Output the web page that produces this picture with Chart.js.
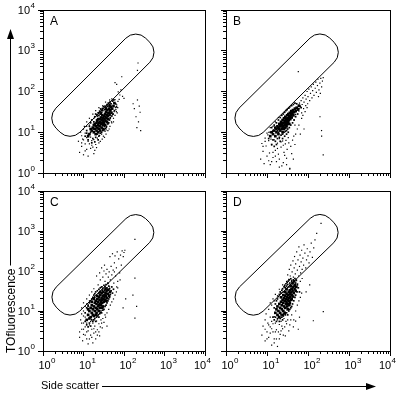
<!DOCTYPE html>
<html>
<head>
<meta charset="utf-8">
<script src="https://cdn.jsdelivr.net/npm/chart.js@4.4.1/dist/chart.umd.min.js"></script>
<style>
  html, body { margin: 0; padding: 0; background: #fff; }
  #wrap { position: relative; width: 404px; height: 396px; }
  canvas { position: absolute; left: 0; top: 0; }
</style>
</head>
<body>
<div id="wrap">
  <canvas id="panelA" width="404" height="396"></canvas>
  <canvas id="panelB" width="404" height="396"></canvas>
  <canvas id="panelC" width="404" height="396"></canvas>
  <canvas id="panelD" width="404" height="396"></canvas>
</div>
<script>
// Achsen (log): Dekaden 10^0 .. 10^4
const decadeValues = [1, 10, 100, 1000, 10000];
const decadeExps = ['0', '1', '2', '3', '4'];
const minorMult = [2, 3, 4, 5, 6, 7, 8, 9];

const xTitle = 'Side scatter';
const yTitle = 'TOfluorescence';

// Gate (Eckpunkte in Datenwerten: side scatter, TO fluorescence)
const gateX = [1.18, 195, 766, 4.65];
const gateY = [22.2, 3556, 916, 5.74];

// Panel A
const coreA = [
  [16,11],[17,13],[18,10],[18,15],[19,12],[20,9],[20,14],[21,17],[21,11],[22,13],
  [22,19],[23,10],[23,15],[24,17],[24,12],[25,21],[25,14],[26,11],[26,18],[27,16],
  [27,23],[28,13],[28,20],[29,17],[29,26],[30,15],[30,22],[31,19],[31,12],[32,25],
  [32,17],[33,21],[34,28],[34,15],[35,19],[35,24],[36,32],[37,22],[38,18],[38,27],
  [39,35],[40,25],[41,21],[42,30],[43,38],[44,27],[46,34],[47,42],[49,30],[51,38],
  [14,9],[15,12],[13,8],[19,16],[23,21],[27,29],[36,38],[45,45],[55,44],[58,52]
];
const midA = [
  [14,14],[15,17],[16,20],[17,7],[18,18],[19,24],[20,28],[20,7.5],[21,20],[22,9],
  [22,25],[23,30],[24,8],[24,26],[25,33],[26,9.5],[26,28],[27,36],[28,10],[28,31],
  [29,38],[30,11],[30,34],[31,42],[32,11.5],[33,36],[34,44],[35,12.5],[36,40],[37,14],
  [38,48],[39,16],[40,44],[41,52],[42,17],[43,47],[44,20],[45,55],[46,23],[48,50],
  [50,25],[52,58],[54,28],[56,62],[58,34],[62,50],[65,42],[12,11],[13,6.5],[11,8],
  [16,5.5],[19,5.8],[23,6.5],[12,9.5],[15,10],[18,12],[25,12],[33,14],[40,30],[47,36]
];
const spreadA = [
  [8,3.2],[9,4.5],[10,2.8],[11,5.2],[12,3.8],[13,6],[10,6.5],[12,7.4],[14,5.2],[16,6.2],
  [15,7.6],[9,8.2],[11,9.5],[13,8.6],[18,6.6],[20,5],[17,4.3],[22,7.2],[8.5,10],[10,12],
  [12,14],[9.5,6.8],[25,8.4],[28,9],[26,6],[31,8],[19,3.6],[15,4],
  [15,18],[14,15],[18,22],[21,27],[24,30],[28,34],[37,13],[41,16],[46,22],[52,27],
  [57,32],[62,40],[66,47],[38,43],[45,51],[52,58],[60,63],[71,57],[76,64],[63,36],
  [43,12],[49,18],[34,10.5],[55,22],[68,30],
  [12,18],[14,22],[17,28],[20,34],[24,40],[36,9],[40,11],[45,14],[50,17],[55,18],
  [60,26],[65,32],[70,40],[16,4.8],[21,4.2],[24,5.5],[29,6.8],[33,7.5],[36,11.5],[9,5.5],
  [11,3.5],[13,2.6],[7.5,6],[10.5,14],[18,3],[44,62],[50,66],[30,45],[35,55],[26,38],
  [60,165],[66,150],[88,230],[72,98],[79,82],[92,76],[100,68],[84,110],
  [168,50],[180,38],[198,24],[208,13],[238,44],[250,31],[258,11],[228,18],[215,62],
  [222,500],[215,330]
];

// Panel B
const coreB = [
  [14,9],[15,11],[16,8],[17,12],[17,10],[18,14],[19,9],[19,13],[20,16],[21,11],
  [21,14],[22,18],[23,12],[23,15],[24,10],[24,20],[25,14],[25,17],[26,12],[26,22],
  [27,15],[27,19],[28,13],[28,24],[29,17],[29,21],[30,14],[30,19],[31,26],[31,16],
  [32,22],[33,18],[33,28],[34,20],[35,16],[35,25],[36,30],[37,21],[38,26],[39,33],
  [40,23],[41,29],[43,35],[44,26],[46,31],[48,38],[50,33],[53,40],[57,36],[60,45],
  [12,8],[13,10],[16,13],[20,12],[22,16],[24,13],[28,18],[32,20],[36,24],[42,31]
];
const midB = [
  [13,13],[14,6.5],[15,15],[16,6],[17,17],[18,7],[19,20],[20,7.5],[21,23],[22,8.5],
  [23,26],[24,9],[25,28],[26,10],[27,31],[28,10.5],[29,34],[30,11],[31,36],[32,12],
  [34,39],[35,13],[36,42],[38,15],[40,45],[42,17],[44,48],[46,20],[48,52],[50,24],
  [53,50],[56,28],[60,38],[64,44],[68,40],[12,10],[11,7],[13,5],[15,4.5],[17,5],
  [19,10],[21,6],[24,7],[27,8],[30,9],[33,10],[22,14],[26,16],[30,22],[35,22],
  [40,28],[18,11],[14,11]
];
const spreadB = [
  [7,2.2],[8,3.4],[8.5,1.7],[9.5,4.6],[10,2.6],[11,6.2],[11.5,3.1],[12,1.6],[13,4.9],[14,2.4],
  [15,6.5],[16,3.6],[17,1.9],[18,5.4],[19,2.9],[20,7],[22,4.3],[23,1.5],[24,6.1],[26,3.2],
  [28,5.2],[30,2.3],[33,7.4],[36,1.3],[38,4.5],[42,6.4],[9,7.2],[10.5,8.6],[12.5,6.8],[7.5,5.3],
  [16,18],[14,14],[19,23],[11,10],
  [14,3.2],[16,2.6],[18,4],[20,2.2],[22,5.8],[25,4.8],[27,2.7],[29,6.3],[31,3.8],[34,5.5],
  [40,3],[45,8],[50,9],[55,12],[60,15],[70,22],[75,26],[85,32],[95,40],[12,13],
  [10,9.5],[9,6],[8,4.5],[11,2],[13,1.9],[20,1.4],[25,1.8],[30,1.6],[44,2.2],[48,5],
  [45,20],[50,27],[55,38],[48,15],[60,33],[62,52],[65,42],[68,60],[70,30],[72,48],
  [75,70],[78,38],[80,55],[85,80],[88,45],[90,65],[95,100],[98,50],[100,75],[105,115],
  [110,60],[115,90],[120,130],[125,70],[130,105],[135,150],[140,80],[150,120],[155,170],[160,95],
  [170,140],[175,200],[185,110],[195,160],[205,210],[215,130],[225,180],[235,220],[200,90],[180,75],
  [58,308],[196,24],[214,11],[215,8],[235,2.8],[36,1.25],[80,12],[65,9]
];

// Panel C
const coreC = [
  [12,6],[13,8],[14,6.5],[14,10],[15,7],[15,12],[16,9],[16,14],[17,8],[17,11],
  [18,13],[18,7.5],[19,16],[19,10],[20,12],[20,18],[21,9],[21,15],[22,11],[22,20],
  [23,13],[23,17],[24,10],[24,22],[25,15],[25,19],[26,12],[26,25],[27,17],[27,14],
  [28,21],[28,28],[29,16],[29,19],[30,24],[30,13],[31,20],[31,30],[32,17],[33,25],
  [33,22],[34,19],[35,28],[36,24],[37,32],[38,21],[40,27],[41,34],[43,24],[45,30],
  [13,11],[16,17],[18,20],[22,24],[26,30],[35,36],[20,8],[24,14],[29,12],[36,18]
];
const midC = [
  [11,9],[12,12],[13,14],[14,16],[15,18],[16,20],[17,22],[18,25],[19,27],[20,30],
  [22,32],[24,35],[26,38],[28,40],[30,36],[32,44],[34,40],[36,46],[38,38],[40,50],
  [42,42],[44,36],[46,26],[48,32],[50,40],[52,28],[55,35],[11,5.5],[12,4.5],[13,4],
  [14,5],[15,4.2],[16,6],[17,5.5],[18,6],[19,6.5],[20,5.5],[21,7],[22,7.5],[23,8],
  [24,7],[25,8.5],[26,9],[27,10],[28,9],[30,10.5],[32,11],[34,13],[36,14],[38,16],
  [40,18],[42,20],[44,22],[13,13],[19,22],[24,28],[29,33],[33,33],[37,27]
];
const spreadC = [
  [8,2.2],[9,3.5],[9.5,1.8],[10,5],[10,2.6],[11,4],[11,7],[12,2],[12,5],[13,3.2],
  [13,1.5],[14,4.5],[15,2.5],[15,5.5],[16,3.5],[17,1.6],[17,5],[18,2.8],[19,4.2],[20,2],
  [21,5.6],[22,3.4],[24,4.8],[25,2.4],[27,6],[29,3.8],[32,5.2],[35,7],[38,4.2],[8.5,6],
  [9,8.5],[10,10],[11,13],[12,15],[14,18],
  [10,7.5],[9,5],[8,3],[10,3.5],[11,2.5],[12,3],[14,2],[16,2.2],[18,3.6],[20,3],
  [22,2.5],[24,3],[26,4],[28,5],[30,6.5],[34,8],[38,9],[42,11],[46,14],[50,17],
  [55,20],[60,25],[65,30],[70,38],[9,12],[10,16],[12,20],[14,25],[16,30],[18,36],
  [21,75],[23,45],[25,90],[26,60],[28,120],[29,40],[30,70],[32,100],[33,140],[34,55],
  [36,85],[38,110],[40,48],[41,70],[43,95],[45,230],[46,60],[48,130],[50,80],[52,270],
  [54,105],[56,50],[58,160],[60,240],[62,75],[65,120],[68,300],[70,55],[74,200],[78,90],
  [82,250],[86,140],[90,320],[96,230],[100,290],[105,330],[66,40],[80,60],[58,95],[44,40],
  [186,620],[186,66],[205,13],[186,6.6],[166,25],[110,20],[95,12]
];

// Panel D
const coreD = [
  [16,9],[17,11],[18,8],[18,13],[19,10],[20,15],[21,9],[21,12],[22,17],[23,11],
  [23,14],[24,19],[25,10],[25,16],[26,21],[26,13],[27,18],[28,12],[28,24],[29,15],
  [29,20],[30,17],[30,27],[31,13],[31,22],[32,19],[33,25],[33,15],[34,30],[34,21],
  [35,18],[36,26],[36,33],[37,22],[38,29],[39,19],[40,36],[40,25],[42,31],[43,23],
  [44,40],[45,28],[47,35],[48,45],[50,32],[52,40],[22,22],[25,25],[30,35],[38,42],
  [42,50],[46,55],[27,9],[32,11],[35,14],[20,7],[24,8],[28,30],[36,16],[40,20]
];
const midD = [
  [15,12],[16,15],[17,18],[18,20],[19,23],[20,26],[21,30],[22,28],[23,33],[24,36],
  [25,30],[26,40],[27,44],[28,38],[29,48],[30,42],[31,52],[32,46],[33,56],[34,40],
  [35,60],[36,50],[37,45],[38,64],[39,36],[40,55],[42,48],[44,60],[46,42],[48,65],
  [50,50],[52,58],[55,45],[58,38],[62,30],[14,7],[15,6],[16,7],[17,5.5],[18,6.5],
  [19,7.5],[20,5.5],[21,6.5],[22,8],[23,7],[24,6],[25,7.5],[26,8.5],[28,8],[30,9],
  [32,8],[34,10],[36,11],[38,12],[40,13],[42,15],[45,18],[48,22],[50,25],[54,30]
];
const spreadD = [
  [7.5,2.5],[8,4.2],[9,1.8],[9,6],[10,3],[10.5,5],[11,2.2],[12,4],[12,7],[13,1.4],
  [13,5.5],[14,3],[15,7.2],[15,2],[16,5],[17,3.4],[18,1.3],[18,6],[20,4.6],[21,2.6],
  [22,5.5],[24,3.6],[26,6.5],[28,2.4],[30,4.8],[34,3.2],[38,6],[44,4],[50,5.6],[58,3.5],
  [62,7],[9.5,8.5],[11,11],[13,14],[15,18],[18,24],
  [9,3.5],[10,2],[11,4.5],[12,2.8],[13,3.6],[14,4.8],[15,1.6],[16,3],[17,2],[19,3],
  [20,2],[22,3.2],[23,4.2],[25,2.5],[27,4],[29,5.5],[32,6],[36,4.5],[40,8],[45,6],
  [50,10],[55,14],[60,18],[65,22],[70,28],[12,16],[14,20],[16,26],[20,35],[24,45],
  [30,55],[32,80],[34,62],[35,110],[37,75],[38,140],[40,58],[41,95],[43,180],[44,70],
  [46,120],[47,230],[49,85],[50,150],[52,60],[53,300],[55,105],[57,190],[59,75],[60,400],
  [62,130],[64,250],[66,90],[68,170],[70,330],[72,110],[75,210],[78,140],[80,450],[84,280],
  [88,120],[92,190],[96,360],[100,240],[106,160],[112,300],[120,500],[128,220],[138,380],[148,600],
  [56,48],[65,55],[72,65],[27,40],
  [163,870],[208,1550],[236,9.6],[135,5.7],[90,30],[110,45]
];

const FONT = '"Liberation Sans", Arial, Helvetica, sans-serif';

// abgerundetes Polygon (Gate)
function roundedPoly(ctx, pts, r) {
  const n = pts.length;
  const last = pts[n - 1], first = pts[0];
  ctx.beginPath();
  ctx.moveTo((last.x + first.x) / 2, (last.y + first.y) / 2);
  for (let i = 0; i < n; i++) {
    const p = pts[i], q = pts[(i + 1) % n];
    ctx.arcTo(p.x, p.y, q.x, q.y, r);
  }
  ctx.closePath();
}

function drawPow(ctx, x, y, exp, align) {
  ctx.font = '11px ' + FONT;
  const w = ctx.measureText('10').width;
  let left = x;
  if (align === 'center') left = x - w / 2;
  if (align === 'right') left = x - w;
  ctx.textAlign = 'left';
  ctx.textBaseline = 'middle';
  ctx.fillText('10', left, y);
  ctx.font = '8px ' + FONT;
  ctx.fillText(exp, left + w + 0.5, y - 5);
}

const panelPlugin = {
  id: 'panel',
  beforeDatasetsDraw(chart) {
    const {ctx, scales: {x, y}} = chart;
    const pts = gateX.map((v, i) => ({x: x.getPixelForValue(v), y: y.getPixelForValue(gateY[i])}));
    ctx.save();
    ctx.strokeStyle = '#000';
    ctx.lineWidth = 1;
    roundedPoly(ctx, pts, 14);
    ctx.stroke();
    ctx.restore();
  },
  afterDatasetsDraw(chart, args, opts) {
    const {ctx, chartArea: a, scales: {x, y}} = chart;
    ctx.save();
    ctx.strokeStyle = '#000';
    ctx.fillStyle = '#000';
    ctx.lineWidth = 1;
    ctx.strokeRect(a.left + 0.5, a.top + 0.5, a.right - a.left, a.bottom - a.top);

    // Ticks
    ctx.beginPath();
    decadeValues.forEach((dv, d) => {
      const mults = d < 4 ? [1].concat(minorMult) : [1];
      mults.forEach(m => {
        const v = dv * m;
        const len = m === 1 ? 5 : 3;
        const px = Math.floor(x.getPixelForValue(v)) + 0.5;
        ctx.moveTo(px, a.bottom);
        ctx.lineTo(px, a.bottom + len);
        const py = Math.floor(y.getPixelForValue(v)) + 0.5;
        ctx.moveTo(a.left, py);
        ctx.lineTo(a.left - len, py);
      });
    });
    ctx.stroke();

    // Beschriftung
    if (opts.showY) {
      decadeValues.forEach((v, i) => {
        drawPow(ctx, a.left - 13, y.getPixelForValue(v) + 0.5, decadeExps[i], 'right');
      });
    }
    if (opts.showX) {
      decadeValues.forEach((v, i) => {
        const off = i === 4 ? -5 : 1.5;
        drawPow(ctx, x.getPixelForValue(v) + off, a.bottom + 15, decadeExps[i], 'center');
      });
    }

    ctx.font = '12px ' + FONT;
    ctx.textAlign = 'left';
    ctx.textBaseline = 'alphabetic';
    ctx.fillText(opts.letter, a.left + 7, a.top + 15);

    if (opts.titles) {
      // x-Achse
      ctx.font = '11px ' + FONT;
      ctx.textBaseline = 'middle';
      ctx.fillText(xTitle, 41, 386);
      ctx.beginPath();
      ctx.moveTo(102, 386.5);
      ctx.lineTo(368, 386.5);
      ctx.stroke();
      ctx.beginPath();
      ctx.moveTo(376, 386.5);
      ctx.lineTo(366, 383);
      ctx.lineTo(366, 390);
      ctx.closePath();
      ctx.fill();
      // y-Achse
      ctx.save();
      ctx.translate(11.5, 353);
      ctx.rotate(-Math.PI / 2);
      ctx.font = '12px ' + FONT;
      ctx.fillText(yTitle, 0, 0);
      const tw = ctx.measureText(yTitle).width;
      ctx.restore();
      ctx.beginPath();
      ctx.moveTo(10.5, 353 - tw - 3);
      ctx.lineTo(10.5, 38);
      ctx.stroke();
      ctx.beginPath();
      ctx.moveTo(10.5, 29);
      ctx.lineTo(7, 39);
      ctx.lineTo(14, 39);
      ctx.closePath();
      ctx.fill();
    }
    ctx.restore();
  }
};

function dotSet(list, radius) {
  return {
    data: list.map(p => ({x: p[0], y: p[1]})),
    pointStyle: 'rect',
    pointRadius: radius,
    backgroundColor: '#000',
    borderWidth: 0
  };
}

function makePanel(id, letter, core, mid, spread, pad, showX, showY, titles) {
  new Chart(document.getElementById(id), {
    type: 'scatter',
    data: {
      datasets: [dotSet(core, 1.9), dotSet(mid, 1.2), dotSet(spread, 0.85)]
    },
    options: {
      responsive: false,
      animation: false,
      events: [],
      layout: { padding: pad, autoPadding: false },
      scales: {
        x: { type: 'logarithmic', min: 1, max: 10000, display: false },
        y: { type: 'logarithmic', min: 1, max: 10000, display: false }
      },
      plugins: {
        legend: { display: false },
        tooltip: { enabled: false },
        panel: { letter: letter, showX: showX, showY: showY, titles: titles }
      }
    },
    plugins: [panelPlugin]
  });
}

makePanel('panelA', 'A', coreA, midA, spreadA, {left: 43, top: 10, right: 199, bottom: 223}, false, true, false);
makePanel('panelB', 'B', coreB, midB, spreadB, {left: 226, top: 10, right: 14, bottom: 223}, false, false, false);
makePanel('panelC', 'C', coreC, midC, spreadC, {left: 43, top: 191, right: 199, bottom: 45}, true, true, true);
makePanel('panelD', 'D', coreD, midD, spreadD, {left: 226, top: 191, right: 14, bottom: 45}, true, false, false);
</script>
</body>
</html>
